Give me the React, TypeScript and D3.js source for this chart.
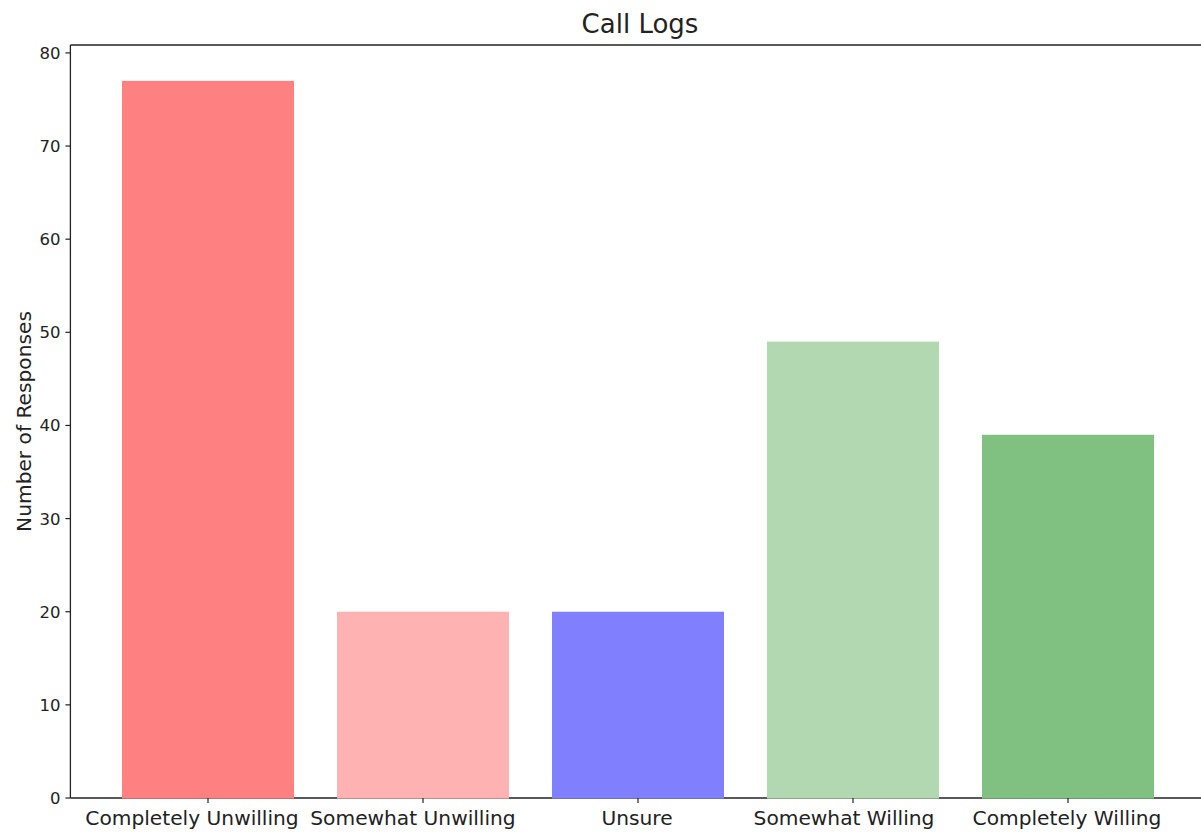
import React from "react";
import * as d3 from "d3";

const categories = ["Completely Unwilling", "Somewhat Unwilling", "Unsure", "Somewhat Willing", "Completely Willing"];
const values = [77, 20, 20, 49, 39];
const colors = ["#ff8080", "#ffb2b2", "#8080ff", "#b2d8b2", "#80c080"];
const yTicks = [0, 10, 20, 30, 40, 50, 60, 70, 80];
// horizontal nudge of each category label (layout only)
const labelShift = [-16, -10, -1, -9, -1];

const W = 1201, H = 834;
const left = 70.4, right = 1205.6, top = 45, bottom = 798;
const font = "DejaVu Sans, sans-serif";
const ink = "#222";

export default function App() {
  const x = d3.scaleLinear().domain([-0.64, 4.64]).range([left, right]);
  const y = d3.scaleLinear().domain([0, 80.85]).range([bottom, top]);
  const bw = x(0.8) - x(0);
  return (
    <svg width={W} height={H} style={{ position: "absolute", left: 0, top: 0, background: "#fff" }}>
      <text x={x(2) + 2} y={33} textAnchor="middle" fontFamily={font} fontSize={26} fill={ink}>Call Logs</text>
      <line x1={left} x2={right} y1={bottom} y2={bottom} stroke={ink} strokeWidth={1.3} />
      {values.map((v, i) => (
        <rect key={i} x={x(i) - bw / 2} y={y(v)} width={bw} height={y(0) - y(v) + 0.6} fill={colors[i]} />
      ))}
      <line x1={left} x2={left} y1={top} y2={bottom} stroke={ink} strokeWidth={1.3} />
      <line x1={left} x2={right} y1={top} y2={top} stroke={ink} strokeWidth={1.3} />
      <line x1={right} x2={right} y1={top} y2={bottom} stroke={ink} strokeWidth={1.3} />
      {yTicks.map((t) => (
        <g key={t}>
          <line x1={left - 5} x2={left} y1={y(t)} y2={y(t)} stroke={ink} strokeWidth={1.2} />
          <text x={left - 10} y={y(t)} dy="0.36em" textAnchor="end" fontFamily={font} fontSize={16.5} fill={ink}>{t}</text>
        </g>
      ))}
      {categories.map((c, i) => (
        <g key={c}>
          <line x1={x(i)} x2={x(i)} y1={bottom} y2={bottom + 5} stroke={ink} strokeWidth={1.2} />
          <text x={x(i) + labelShift[i]} y={825} textAnchor="middle" fontFamily={font} fontSize={20.2} fill={ink}>{c}</text>
        </g>
      ))}
      <text transform={`translate(31,${(top + bottom) / 2}) rotate(-90)`} textAnchor="middle" fontFamily={font} fontSize={20.2} fill={ink}>Number of Responses</text>
    </svg>
  );
}
